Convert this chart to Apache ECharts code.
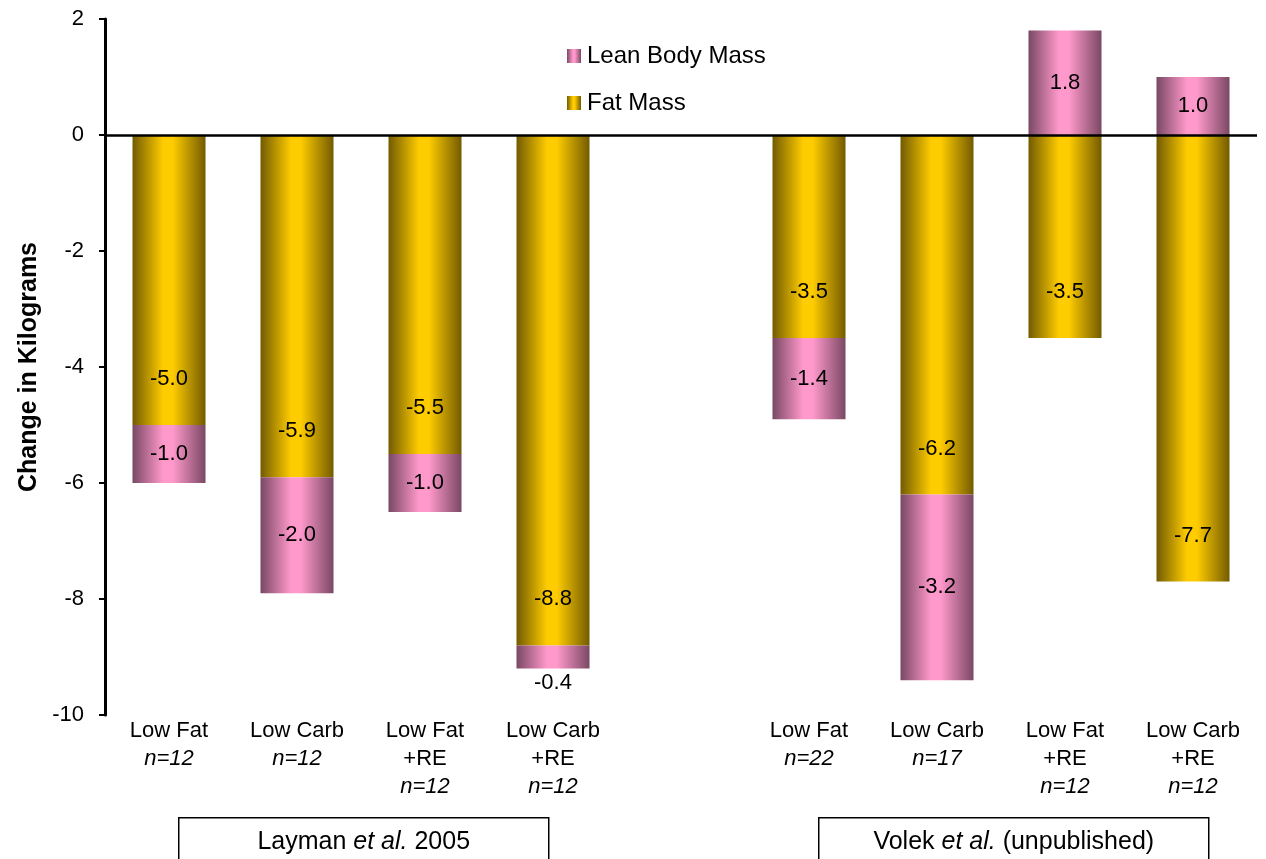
<!DOCTYPE html>
<html>
<head>
<meta charset="utf-8">
<title>Change in Body Composition</title>
<script src="https://cdn.jsdelivr.net/npm/echarts@6/dist/echarts.min.js"></script>
<style>
  html, body { margin: 0; padding: 0; background: #ffffff; }
  #chart { width: 1266px; height: 859px; }
</style>
</head>
<body>
<div id="chart"></div>
<script>
// Diet groups (empty slot separates the two studies)
const categories = ['Low Fat', 'Low Carb', 'Low Fat\n+RE', 'Low Carb\n+RE', '',
                    'Low Fat', 'Low Carb', 'Low Fat\n+RE', 'Low Carb\n+RE'];
const groupSizes = ['n=12', 'n=12', 'n=12', 'n=12', '',
                    'n=22', 'n=17', 'n=12', 'n=12'];
// Change in kilograms
const fatMass  = [-5.0, -5.9, -5.5, -8.8, null, -3.5, -6.2, -3.5, -7.7];
const leanMass = [-1.0, -2.0, -1.0, -0.4, null, -1.4, -3.2,  1.8,  1.0];
const yTicks = { min: -10, max: 2, interval: 2 };
const studies = [
  { name: 'Layman ', italic: 'et al.', tail: ' 2005' },
  { name: 'Volek ', italic: 'et al.', tail: ' (unpublished)' }
];

const FONT = '"Liberation Sans", Arial, sans-serif';

function cylinder(edge, mid) {
  return new echarts.graphic.LinearGradient(0, 0, 1, 0, [
    { offset: 0, color: edge },
    { offset: 0.42, color: mid },
    { offset: 0.55, color: mid },
    { offset: 1, color: edge }
  ]);
}
const fatColor = cylinder('#725b00', '#ffcc00');
const leanColor = cylinder('#7a4863', '#ff99cc');

// Very thin segments get their label just below the bar
const leanData = leanMass.map(v => {
  if (v !== null && Math.abs(v) < 0.5) {
    return { value: v, label: { position: 'bottom', distance: 3 } };
  }
  return v;
});

const chart = echarts.init(document.getElementById('chart'), null, { renderer: 'canvas' });

const option = {
  animation: false,
  backgroundColor: '#ffffff',
  textStyle: { fontFamily: FONT, color: '#000' },
  grid: { left: 105, right: 9, top: 19, bottom: 144, containLabel: false },
  legend: {
    orient: 'vertical',
    left: 562,
    top: 39,
    itemWidth: 14,
    itemHeight: 14,
    itemGap: 23,
    icon: 'rect',
    data: ['Lean Body Mass', 'Fat Mass'],
    textStyle: { fontFamily: FONT, fontSize: 24, color: '#000', padding: [0, 0, 0, 1] }
  },
  xAxis: {
    type: 'category',
    data: categories,
    axisLine: { show: false },
    axisTick: { show: false },
    axisLabel: {
      interval: 0,
      margin: 2,
      fontFamily: FONT,
      fontSize: 22,
      color: '#000',
      lineHeight: 28,
      formatter: (value, idx) => value ? value + '\n{i|' + groupSizes[idx] + '}' : '',
      rich: {
        i: { fontStyle: 'italic', fontFamily: FONT, fontSize: 22, lineHeight: 28, color: '#000' }
      }
    }
  },
  yAxis: {
    type: 'value',
    min: yTicks.min,
    max: yTicks.max,
    interval: yTicks.interval,
    name: 'Change in Kilograms',
    nameLocation: 'middle',
    nameGap: 62,
    nameTextStyle: { fontFamily: FONT, fontSize: 25, fontWeight: 'bold', color: '#000' },
    axisLine: { show: true, lineStyle: { color: '#000', width: 3 } },
    axisTick: { show: true, inside: false, length: 6, lineStyle: { color: '#000', width: 2 } },
    axisLabel: { fontFamily: FONT, fontSize: 22, color: '#000', margin: 21 },
    splitLine: { show: false }
  },
  series: [
    {
      name: 'Fat Mass',
      type: 'bar',
      stack: 'body',
      barWidth: 73,
      data: fatMass,
      itemStyle: { color: fatColor },
      label: {
        show: true,
        position: 'insideBottom',
        distance: 35,
        fontFamily: FONT,
        fontSize: 22,
        color: '#000',
        formatter: p => p.value.toFixed(1)
      },
      markLine: {
        silent: true,
        symbol: 'none',
        label: { show: false },
        lineStyle: { color: '#000', width: 2.5, type: 'solid' },
        data: [{ yAxis: 0 }]
      }
    },
    {
      name: 'Lean Body Mass',
      type: 'bar',
      stack: 'body',
      barWidth: 73,
      data: leanData,
      itemStyle: { color: leanColor },
      label: {
        show: true,
        position: 'inside',
        fontFamily: FONT,
        fontSize: 22,
        color: '#000',
        formatter: p => p.value.toFixed(1)
      }
    }
  ],
  graphic: [
    {
      type: 'group',
      left: 178,
      top: 817,
      children: [
        { type: 'rect', shape: { x: 0, y: 0, width: 370, height: 60 },
          style: { fill: '#fff', stroke: '#000', lineWidth: 1.5 } },
        { type: 'text', x: 185, y: 24,
          style: {
            text: studies[0].name + '{i|' + studies[0].italic + '}' + studies[0].tail,
            font: '25px ' + FONT, fill: '#000', align: 'center', verticalAlign: 'middle',
            rich: { i: { fontStyle: 'italic', fontSize: 25, fontFamily: FONT, fill: '#000' } }
          } }
      ]
    },
    {
      type: 'group',
      left: 818,
      top: 817,
      children: [
        { type: 'rect', shape: { x: 0, y: 0, width: 390, height: 60 },
          style: { fill: '#fff', stroke: '#000', lineWidth: 1.5 } },
        { type: 'text', x: 195, y: 24,
          style: {
            text: studies[1].name + '{i|' + studies[1].italic + '}' + studies[1].tail,
            font: '25px ' + FONT, fill: '#000', align: 'center', verticalAlign: 'middle',
            rich: { i: { fontStyle: 'italic', fontSize: 25, fontFamily: FONT, fill: '#000' } }
          } }
      ]
    }
  ]
};

chart.setOption(option);
</script>
</body>
</html>
